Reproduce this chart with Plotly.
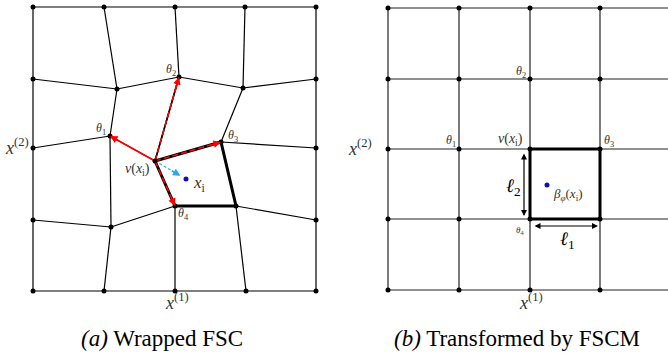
import plotly.graph_objects as go

# ---------------- data: left (wrapped) grid node positions ----------------
L_X = [
    [33, 104, 175, 245, 316],
    [33, 117, 179, 243, 316],
    [33, 110, 155, 221, 316],
    [33, 111, 175, 236, 316],
    [33, 104, 175, 246, 316],
]
L_Y = [
    [7, 7, 7, 7, 7],
    [79, 89, 77, 88, 79],
    [148, 136, 161, 142, 148],
    [220, 227, 206, 206, 220],
    [291, 291, 291, 291, 291],
]
XI = (186, 179)          # sample point x_i
# ---------------- data: right (regular) grid ----------------
R_X = [388, 459, 530, 600, 672]
R_Y = [8, 79, 149, 219, 290]
BETA = (547, 185)        # transformed point

FONT = "Liberation Serif, Times New Roman, serif"
fig = go.Figure()

def add_lines(xs, ys, width=1.2, color="black", dash="solid"):
    fig.add_trace(go.Scatter(x=xs, y=ys, mode="lines",
                             line=dict(color=color, width=width, dash=dash),
                             hoverinfo="skip", showlegend=False))

# left grid edges
ex, ey = [], []
for r in range(5):
    for c in range(4):
        ex += [L_X[r][c], L_X[r][c + 1], None]
        ey += [L_Y[r][c], L_Y[r][c + 1], None]
for c in range(5):
    for r in range(4):
        ex += [L_X[r][c], L_X[r + 1][c], None]
        ey += [L_Y[r][c], L_Y[r + 1][c], None]
add_lines(ex, ey)

nu = (L_X[2][2], L_Y[2][2])
t1 = (L_X[2][1], L_Y[2][1])
t2 = (L_X[1][2], L_Y[1][2])
t3 = (L_X[2][3], L_Y[2][3])
t4 = (L_X[3][2], L_Y[3][2])
c4 = (L_X[3][3], L_Y[3][3])
add_lines([nu[0], t3[0], c4[0], t4[0], nu[0]], [nu[1], t3[1], c4[1], t4[1], nu[1]], width=3)
add_lines([nu[0], t2[0]], [nu[1], t2[1]], width=1.6)

# red vectors
add_lines([nu[0], t1[0]], [nu[1], t1[1]], width=1.6, color="red")
for t in (t2, t3, t4):
    add_lines([nu[0], t[0]], [nu[1], t[1]], width=1.6, color="red", dash="6px,3px")
# blue dashed vector
bx = nu[0] + (XI[0] - nu[0]) * 0.82
by = nu[1] + (XI[1] - nu[1]) * 0.82
add_lines([nu[0], bx], [nu[1], by], width=1.2, color="#29abe2", dash="3px,2px")

# left nodes
fig.add_trace(go.Scatter(x=[v for row in L_X for v in row], y=[v for row in L_Y for v in row],
                         mode="markers", marker=dict(color="black", size=5),
                         hoverinfo="skip", showlegend=False))
fig.add_trace(go.Scatter(x=[XI[0]], y=[XI[1]], mode="markers",
                         marker=dict(color="#1010b0", size=5), hoverinfo="skip", showlegend=False))

# right grid edges
rx, ry = [], []
for y in R_Y:
    rx += [R_X[0], R_X[-1], None]
    ry += [y, y, None]
for x in R_X:
    rx += [x, x, None]
    ry += [R_Y[0], R_Y[-1], None]
add_lines(rx, ry, color="#222")
add_lines([R_X[2], R_X[3], R_X[3], R_X[2], R_X[2]],
          [R_Y[2], R_Y[2], R_Y[3], R_Y[3], R_Y[2]], width=3)
fig.add_trace(go.Scatter(x=[x for y in R_Y for x in R_X], y=[y for y in R_Y for x in R_X],
                         mode="markers", marker=dict(color="black", size=5),
                         hoverinfo="skip", showlegend=False))
fig.add_trace(go.Scatter(x=[BETA[0]], y=[BETA[1]], mode="markers",
                         marker=dict(color="#1010b0", size=5), hoverinfo="skip", showlegend=False))

ann = []
def arrow(tail, head, color, width=1.5, side="end", size=1.0):
    ann.append(dict(x=head[0], y=head[1], ax=tail[0], ay=tail[1], xref="x", yref="y",
                    axref="x", ayref="y", text="", showarrow=True, arrowhead=2,
                    arrowsize=size, arrowwidth=width, arrowcolor=color, arrowside=side,
                    startarrowhead=2, startarrowsize=size))

def head_only(tail, head, color, frac=0.2):
    sx = head[0] - (head[0] - tail[0]) * frac
    sy = head[1] - (head[1] - tail[1]) * frac
    arrow((sx, sy), head, color)

for t in (t1, t2, t3, t4):
    head_only(nu, t, "red")
head_only(nu, (bx, by), "#29abe2", frac=0.4)

# right double arrows
arrow((524, 152), (524, 216), "black", width=1.2, side="end+start")
arrow((533, 226), (598, 226), "black", width=1.2, side="end+start")

def label(x, y, text, size=11, color="#333"):
    ann.append(dict(x=x, y=y, xref="x", yref="y", text=text, showarrow=False,
                    font=dict(family=FONT, size=size, color=color)))

# left labels
label(101, 129, "<i>θ</i><sub>1</sub>", 12)
label(171, 70, "<i>θ</i><sub>2</sub>", 12)
label(233, 136, "<i>θ</i><sub>3</sub>", 12)
label(183, 214, "<i>θ</i><sub>4</sub>", 12)
label(137, 169, "<i>ν</i>(<i>x</i><sub>i</sub>)", 14)
label(199, 184, "<i>x</i><sub>i</sub>", 17)
label(17, 146, "<i>x</i><sup>(2)</sup>", 18)
label(177, 301, "<i>x</i><sup>(1)</sup>", 18)
label(162, 338, "<i>(a)</i> Wrapped FSC", 23, "black")

# right labels
label(521, 72, "<i>θ</i><sub>2</sub>", 12)
label(451, 141, "<i>θ</i><sub>1</sub>", 12)
label(510, 139, "<i>ν</i>(<i>x</i><sub>i</sub>)", 14)
label(609, 141, "<i>θ</i><sub>3</sub>", 12)
label(520, 230, "<i>θ</i><sub>4</sub>", 9)
label(360, 147, "<i>x</i><sup>(2)</sup>", 18)
label(531, 301, "<i>x</i><sup>(1)</sup>", 18)
label(513, 187, "<i>ℓ</i><sub>2</sub>", 19, "black")
label(567, 240, "<i>ℓ</i><sub>1</sub>", 19, "black")
label(568, 194, "<i>β</i><sub><i>φ</i></sub>(<i>x</i><sub>i</sub>)", 13)
label(517, 338, "<i>(b)</i> Transformed by FSCM", 23, "black")

fig.update_layout(
    width=668, height=354, margin=dict(l=0, r=0, t=0, b=0),
    paper_bgcolor="white", plot_bgcolor="white",
    xaxis=dict(range=[0, 668], visible=False, fixedrange=True),
    yaxis=dict(range=[354, 0], visible=False, fixedrange=True),
    annotations=ann, showlegend=False,
)
fig.write_html("out.html", config={"displayModeBar": False},
               post_script="document.body.style.margin='0';document.body.style.overflow='hidden';")
